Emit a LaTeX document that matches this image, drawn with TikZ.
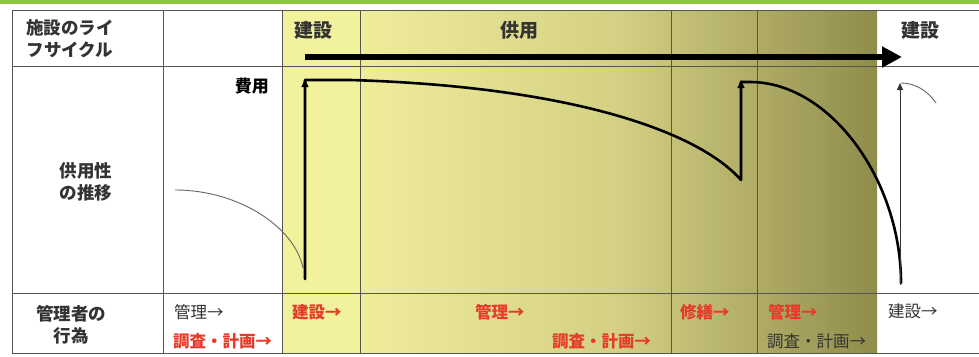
\documentclass[tikz,border=0pt]{standalone}
\usepackage{fontspec}
\setmainfont{Noto Sans CJK JP}
\usetikzlibrary{arrows.meta}
\definecolor{topgreen}{HTML}{8CC63E}
\definecolor{gridc}{HTML}{555555}
\definecolor{redtxt}{HTML}{E83A2A}
\definecolor{ylw}{HTML}{F3F29C}
\definecolor{sh1}{HTML}{EFED9A}
\definecolor{sh2}{HTML}{D3D083}
\definecolor{sh3}{HTML}{908C4C}
\definecolor{thin}{HTML}{666666}
\tikzset{
  hdr/.style={font=\bfseries\fontsize{17.5}{22}\selectfont, text=black!80, align=center, inner sep=0pt},
  hdrb/.style={font=\bfseries\fontsize{19}{22}\selectfont, text=black!80, inner sep=0pt},
  act/.style={font=\fontsize{16.5}{18}\selectfont, text=black!80, anchor=west, inner sep=0pt},
  actr/.style={font=\bfseries\fontsize{16.5}{18}\selectfont, text=redtxt, anchor=west, inner sep=0pt},
  gline/.style={draw=gridc, line width=0.8pt},
  curve/.style={line width=2.6pt, line cap=round, line join=round},
  thinc/.style={draw=thin, line width=0.9pt}
}
\begin{document}
\begin{tikzpicture}[x=1pt,y=-1pt]
\useasboundingbox (0,0) rectangle (979,356);
\fill[white] (0,0) rectangle (979,356);
\fill[topgreen] (0,0) rectangle (979,4);
% backgrounds
\fill[ylw] (282,10) rectangle (360,353);
\shade[left color=sh1, right color=sh2] (360,10) rectangle (620,353);
\shade[left color=sh2, right color=sh3] (619.5,10) rectangle (877,353);
% grid
\draw[gline] (12,10) -- (979,10);
\draw[gline] (12,66) -- (979,66);
\draw[gline] (12,293) -- (979,293);
\draw[gline] (12,353) -- (979,353);
\foreach \xx in {12,163,282,360,671,757} \draw[gline] (\xx,10) -- (\xx,353);
% texts
\node[hdr] (lc) at (70,39) {施設のライ\\フサイクル};
\node[hdrb] (h1) at (313,30) {建設};
\node[hdrb] (h2) at (519,30) {供用};
\node[hdrb] (h3) at (920,30) {建設};
\node[font=\bfseries\fontsize{17}{20}\selectfont, anchor=east, inner sep=0pt] (cost) at (269,86) {費用};
\node[hdr] (sv) at (86,182) {供用性\\の推移};
\node[hdr] (mg) at (71,325) {管理者の\\行為};
\node[act]  (a1) at (174,312) {管理→};
\node[actr] (a2) at (173,341) {調査・計画→};
\node[actr] (a3) at (292,312) {建設→};
\node[actr] (a4) at (475,312) {管理→};
\node[actr] (a5) at (552,341) {調査・計画→};
\node[actr] (a6) at (680,312) {修繕→};
\node[actr] (a7) at (768,312) {管理→};
\node[act]  (a8) at (767,341) {調査・計画→};
\node[act]  (a9) at (888,311) {建設→};
% big arrow
\coordinate (ba) at (305,57);
\coordinate (bb) at (902,57);
\draw[line width=6pt, -{Triangle[length=20pt,width=20pt]}] (ba) -- (bb);
% left thin curve
\coordinate (l0) at (175,190);
\coordinate (l1) at (303,268);
\draw[thinc] (l0) .. controls (240,190) and (295,228) .. (l1);
% main curve
\coordinate (m0) at (305,279);
\coordinate (m1) at (305,80);
\coordinate (m2) at (350,80);
\coordinate (m3) at (741,180);
\coordinate (m4) at (741,82);
\coordinate (m5) at (750,82);
\coordinate (m6) at (901,283);
\draw[curve] (m0) -- (m1) -- (m2) .. controls (560,86) and (695,128) .. (m3) -- (m4) -- (m5) .. controls (830,82) and (901,180) .. (m6);
\draw[-{Triangle[length=8pt,width=7pt]}, line width=1pt] (305,100) -- (305,79);
\draw[-{Triangle[length=8pt,width=7pt]}, line width=1pt] (741,100) -- (741,80);
% right thin
\coordinate (r0) at (900,285);
\coordinate (r1) at (900,83);
\coordinate (r2) at (936,103);
\draw[thinc, -{Triangle[length=7pt,width=6pt]}, draw=black!80] (r0) -- (r1);
\draw[thinc] (901,83) .. controls (915,83) and (928,91) .. (r2);
\end{tikzpicture}
\end{document}
